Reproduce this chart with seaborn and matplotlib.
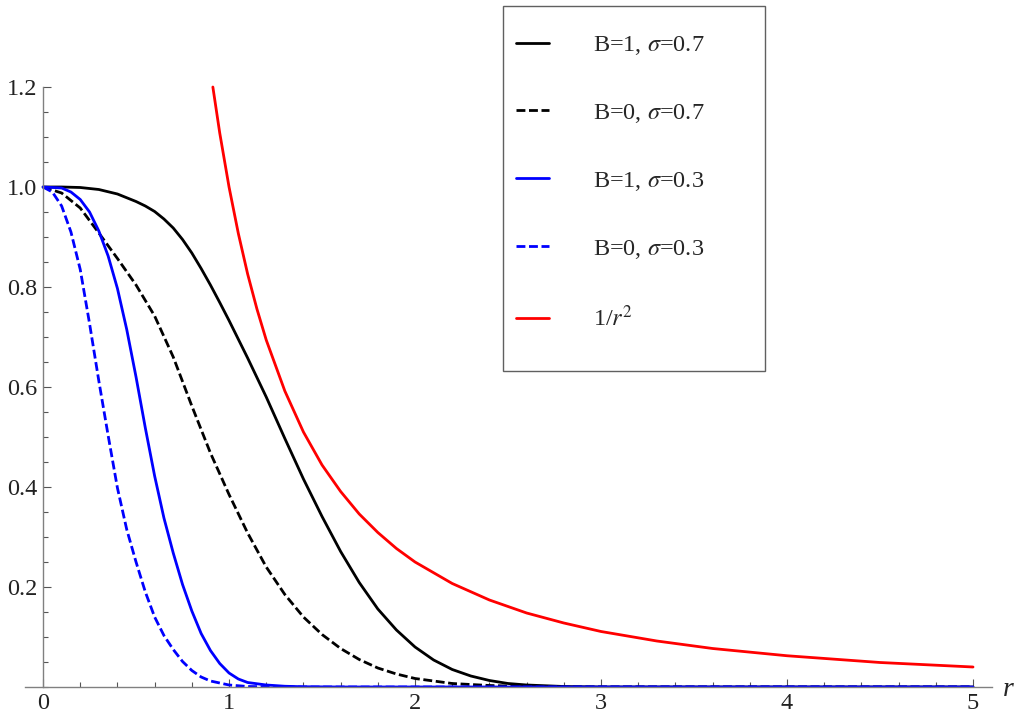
import numpy as np
import pandas as pd
import seaborn as sns
import matplotlib.pyplot as plt
from matplotlib.patches import Rectangle
from matplotlib.ticker import FixedLocator

# values
r_b1_s07 = [0, 0.1, 0.2, 0.3, 0.4, 0.5, 0.55, 0.6, 0.65, 0.7, 0.75, 0.8, 0.85, 0.9,
            0.95, 1.0, 1.1, 1.2, 1.3, 1.4, 1.5, 1.6, 1.7, 1.8, 1.9, 2.0, 2.1, 2.2, 2.3,
            2.4, 2.5, 2.6, 2.8, 3.0, 5.0]
y_b1_s07 = [1.0, 1.0, 0.999, 0.995, 0.986, 0.971, 0.962, 0.951, 0.936, 0.918, 0.895,
            0.868, 0.837, 0.804, 0.769, 0.733, 0.658, 0.58, 0.497, 0.416, 0.341, 0.271,
            0.209, 0.156, 0.114, 0.08, 0.054, 0.035, 0.022, 0.013, 0.007, 0.004, 0.001,
            0.0, 0.0]

r_b0_s07 = [0, 0.1, 0.2, 0.3, 0.4, 0.5, 0.6, 0.7, 0.8, 0.9, 1.0, 1.1, 1.2, 1.3, 1.4,
            1.5, 1.6, 1.7, 1.8, 1.9, 2.0, 2.2, 2.4, 2.6, 2.8, 3.0, 5.0]
y_b0_s07 = [1.0, 0.988, 0.958, 0.908, 0.857, 0.804, 0.742, 0.66, 0.562, 0.468, 0.385,
            0.308, 0.24, 0.185, 0.14, 0.105, 0.077, 0.055, 0.038, 0.026, 0.017, 0.007,
            0.003, 0.001, 0.0, 0.0, 0.0]

r_b1_s03 = [0, 0.1, 0.15, 0.2, 0.25, 0.3, 0.35, 0.4, 0.45, 0.5, 0.55, 0.6, 0.65, 0.7,
            0.75, 0.8, 0.85, 0.9, 0.95, 1.0, 1.05, 1.1, 1.2, 1.3, 1.4, 1.6, 5.0]
y_b1_s03 = [1.0, 0.998, 0.99, 0.975, 0.95, 0.912, 0.862, 0.797, 0.715, 0.62, 0.518,
            0.422, 0.338, 0.268, 0.205, 0.152, 0.107, 0.073, 0.047, 0.028, 0.016, 0.009,
            0.004, 0.0015, 0.0005, 0.0, 0.0]

r_b0_s03 = [0, 0.05, 0.1, 0.15, 0.2, 0.25, 0.3, 0.35, 0.4, 0.45, 0.5, 0.55, 0.6, 0.65,
            0.7, 0.75, 0.8, 0.85, 0.9, 1.0, 1.1, 1.3, 5.0]
y_b0_s03 = [1.0, 0.99, 0.962, 0.91, 0.835, 0.727, 0.612, 0.503, 0.398, 0.315, 0.25,
            0.19, 0.14, 0.103, 0.075, 0.051, 0.033, 0.02, 0.012, 0.004, 0.001, 0.0, 0.0]

r_inv = [0.913, 0.95, 1.0, 1.05, 1.1, 1.15, 1.2, 1.3, 1.4, 1.5, 1.6, 1.7, 1.8, 1.9, 2.0,
         2.2, 2.4, 2.6, 2.8, 3.0, 3.3, 3.6, 4.0, 4.5, 5.0]
y_inv = [1.2, 1.108, 1.0, 0.907, 0.826, 0.756, 0.694, 0.592, 0.51, 0.444, 0.391, 0.346,
         0.309, 0.277, 0.25, 0.207, 0.174, 0.148, 0.128, 0.111, 0.092, 0.077, 0.0625,
         0.049, 0.04]

series = [
    (r_b1_s07, y_b1_s07, 'black', '-', r'B=1, $\sigma$=0.7'),
    (r_b0_s07, y_b0_s07, 'black', '--', r'B=0, $\sigma$=0.7'),
    (r_b1_s03, y_b1_s03, 'blue', '-', r'B=1, $\sigma$=0.3'),
    (r_b0_s03, y_b0_s03, 'blue', '--', r'B=0, $\sigma$=0.3'),
    (r_inv, y_inv, 'red', '-', r'1/$r^2$'),
]

sns.set_theme(style='white')
plt.rcParams['font.family'] = ['Liberation Serif', 'DejaVu Serif']
plt.rcParams['mathtext.fontset'] = 'stix'

fig = plt.figure(figsize=(10.18, 7.16), dpi=100)
ax = fig.add_axes([25 / 1018, 29 / 716, 967 / 1018, 687 / 716])

for xs, ys, col, ls, lab in series:
    df = pd.DataFrame({'r': xs, 'v': ys})
    line_style = (0, (3.2, 1.3)) if ls == '--' else '-'
    sns.lineplot(data=df, x='r', y='v', color=col, linestyle=line_style,
                 linewidth=2.0, estimator=None, label=lab, ax=ax)

ax.set_xlim(-0.097, 5.102)
ax.set_ylim(0, 1.374)
ax.set_xlabel('')
ax.set_ylabel('')

for side in ['top', 'right']:
    ax.spines[side].set_visible(False)
ax.spines['left'].set_position(('data', 0))
ax.spines['bottom'].set_position(('data', 0))
ax.spines['left'].set_bounds(0, 1.2)
for side in ['left', 'bottom']:
    ax.spines[side].set_color('#808080')
    ax.spines[side].set_linewidth(1.0)

ax.set_xticks([0, 1, 2, 3, 4, 5])
ax.set_xticklabels(['0', '1', '2', '3', '4', '5'])
ax.set_yticks([0.2, 0.4, 0.6, 0.8, 1.0, 1.2])
ax.set_yticklabels(['0.2', '0.4', '0.6', '0.8', '1.0', '1.2'])
ax.xaxis.set_minor_locator(FixedLocator([i * 0.2 for i in range(26)]))
ax.yaxis.set_minor_locator(FixedLocator([i * 0.05 for i in range(25)]))
ax.tick_params(which='both', direction='in', bottom=True, left=True,
               color='#555555', labelsize=17.5, labelcolor='#222222')
ax.tick_params(which='major', length=6, width=0.8, pad=4)
ax.tick_params(which='minor', length=3.5, width=0.8)
ax.patch.set_alpha(0)

fig.text(1003 / 1018, 1 - 690 / 716, 'r', fontsize=20, style='italic',
         ha='left', va='center')

leg = ax.legend(loc='upper left', bbox_to_anchor=(516 / 1018, 1 - 34 / 716),
                bbox_transform=fig.transFigure, frameon=False, fontsize=17.5,
                borderpad=0, borderaxespad=0, handlelength=1.35,
                handletextpad=1.8, labelspacing=1.85)
fig.add_artist(Rectangle((503 / 1018, 1 - 371 / 716), 262 / 1018, 365 / 716,
                         transform=fig.transFigure, fill=False,
                         edgecolor='#606060', linewidth=1.0))

fig.savefig('out.png', dpi=100)
